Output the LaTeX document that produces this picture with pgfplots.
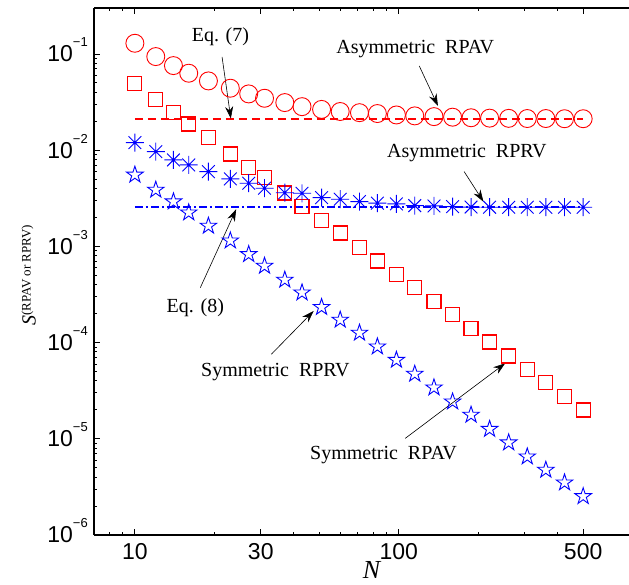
\documentclass[border=0pt]{standalone}
\usepackage{fontspec}
\setmainfont{Liberation Serif}
\setsansfont{Liberation Sans}
\usepackage{pgfplots}
\pgfplotsset{compat=1.18}
\usetikzlibrary{arrows.meta}

% MATLAB-like markers
\pgfdeclareplotmark{mstar}{%
  \pgfpathmoveto{\pgfqpoint{-\pgfplotmarksize}{0pt}}\pgfpathlineto{\pgfqpoint{\pgfplotmarksize}{0pt}}%
  \pgfpathmoveto{\pgfqpoint{0pt}{-\pgfplotmarksize}}\pgfpathlineto{\pgfqpoint{0pt}{\pgfplotmarksize}}%
  \pgfpathmoveto{\pgfpointpolar{45}{\pgfplotmarksize}}\pgfpathlineto{\pgfpointpolar{225}{\pgfplotmarksize}}%
  \pgfpathmoveto{\pgfpointpolar{135}{\pgfplotmarksize}}\pgfpathlineto{\pgfpointpolar{315}{\pgfplotmarksize}}%
  \pgfusepathqstroke}
\pgfdeclareplotmark{pentagram}{%
  \pgfpathmoveto{\pgfpointpolar{90}{\pgfplotmarksize}}%
  \pgfpathlineto{\pgfpointpolar{126}{0.382\pgfplotmarksize}}%
  \pgfpathlineto{\pgfpointpolar{162}{\pgfplotmarksize}}%
  \pgfpathlineto{\pgfpointpolar{198}{0.382\pgfplotmarksize}}%
  \pgfpathlineto{\pgfpointpolar{234}{\pgfplotmarksize}}%
  \pgfpathlineto{\pgfpointpolar{270}{0.382\pgfplotmarksize}}%
  \pgfpathlineto{\pgfpointpolar{306}{\pgfplotmarksize}}%
  \pgfpathlineto{\pgfpointpolar{342}{0.382\pgfplotmarksize}}%
  \pgfpathlineto{\pgfpointpolar{18}{\pgfplotmarksize}}%
  \pgfpathlineto{\pgfpointpolar{54}{0.382\pgfplotmarksize}}%
  \pgfpathclose\pgfusepathqstroke}

\newcommand{\tl}[1]{10\smash{\raisebox{15pt}{\fontsize{13}{13}\selectfont −#1}}}

\begin{document}
\begin{tikzpicture}
\useasboundingbox (-94pt,-50pt) rectangle (535pt,535pt);
\begin{axis}[scale only axis,width=535pt,height=527pt,
  xmode=log,ymode=log,xmin=7,xmax=746,ymin=1e-6,ymax=0.3,
  axis x line*=box,axis y line*=left,axis line style={-,line width=1.1pt},
  xtick={10,30,100,500},xticklabels={10,30,100,500},
  minor xtick={8,9,20,40,50,60,70,80,90,200,300,400},
  ytick={1e-6,1e-5,1e-4,1e-3,1e-2,1e-1},
  yticklabels={\tl{6},\tl{5},\tl{4},\tl{3},\tl{2},\tl{1}},
  tick align=inside,major tick length=6pt,minor tick length=3.5pt,
  tick style={black,line width=0.8pt},
  ticklabel style={font=\sffamily\fontsize{23}{23}\selectfont},
  xticklabel style={inner sep=0pt,yshift=-8.5pt},
  yticklabel style={inner sep=0pt,xshift=-6pt},
  xlabel={\fontsize{26}{26}\selectfont\itshape N},
  xlabel style={at={(axis description cs:0.519,-0.066)},anchor=center,inner sep=0pt},
  ylabel={{\fontsize{20}{20}\selectfont\itshape S}\raisebox{5pt}{\fontsize{13}{13}\selectfont(RPAV or RPRV)}},
  ylabel style={at={(axis description cs:-0.122,0.493)},anchor=center},
  clip=false]

% Eq. (7) and Eq. (8)
\addplot[red,line width=2.2pt,dash pattern=on 8pt off 5pt] coordinates {(10,0.0211)(500,0.0211)};
\addplot[blue,line width=1.8pt,dash pattern=on 8pt off 3pt on 2pt off 3pt] coordinates {(10,0.00255)(500,0.00255)};

% Asymmetric RPAV
\addplot[red,only marks,mark=o,mark size=9pt,mark options={draw=red,line width=0.9pt}] coordinates {
(10,0.129)(12,0.0938)(14,0.0756)(16,0.063)(19,0.0524)(23,0.044)(27,0.0384)(31,0.0346)
(37,0.0312)(43,0.0283)(51,0.0265)(60,0.0252)(71,0.0245)(83,0.0240)(98,0.0232)(115,0.0227)
(136,0.0223)(160,0.0220)(188,0.0217)(221,0.0215)(261,0.0214)(307,0.0213)(361,0.0213)
(425,0.0212)(500,0.0212)};

% Symmetric RPAV
\addplot[red,only marks,mark=square,mark size=7pt,mark options={draw=red,line width=1.15pt}] coordinates {
(10,0.0496)(12,0.0333)(14,0.0245)(16,0.0187)(19,0.01349)(23,0.00913)(27,0.00658)(31,0.00518)
(37,0.00359)(43,0.00257)(51,0.00185)(60,0.001377)(71,0.00097)(83,0.000705)(98,0.000513)
(115,0.000372)(136,0.000266)(160,0.000194)(188,0.000141)(221,0.0001015)(261,7.26e-5)
(307,5.28e-5)(361,3.83e-5)(425,2.74e-5)(500,1.99e-5)};

% Asymmetric RPRV
\addplot[blue,only marks,mark=mstar,mark size=9pt,mark options={draw=blue,line width=0.9pt}] coordinates {
(10,0.01197)(12,0.00965)(14,0.00791)(16,0.00702)(19,0.00598)(23,0.00502)(27,0.00453)(31,0.00402)
(37,0.00361)(43,0.00356)(51,0.00321)(60,0.00309)(71,0.00292)(83,0.00281)(98,0.00276)
(115,0.00265)(136,0.00263)(160,0.00259)(188,0.00256)(221,0.00255)(261,0.00255)(307,0.00255)
(361,0.00255)(425,0.00255)(500,0.00255)};

% Symmetric RPRV
\addplot[blue,only marks,mark=pentagram,mark size=8.7pt,mark options={draw=blue,line width=0.9pt}] coordinates {
(10,0.00553)(12,0.00386)(14,0.002915)(16,0.00224)(19,0.00163)(23,0.001146)(27,0.000827)
(31,0.000625)(37,0.000448)(43,0.00033)(51,0.000233)(60,0.000172)(71,0.000126)(83,9.07e-5)
(98,6.59e-5)(115,4.72e-5)(136,3.40e-5)(160,2.43e-5)(188,1.77e-5)(221,1.26e-5)(261,9.12e-6)
(307,6.52e-6)(361,4.74e-6)(425,3.50e-6)(500,2.52e-6)};

% annotations
\tikzset{ann/.style={font=\fontsize{20}{20}\selectfont,inner sep=0pt},
  arr/.style={black,line width=0.6pt,-{Stealth[length=12pt,width=8pt]}}}
\node[ann] at (axis cs:21.1,0.150) {Eq. (7)};
\draw[arr] (axis cs:21.4,0.0931) -- (axis cs:23.1,0.0213);
\node[ann] at (axis cs:115.5,0.1127) {Asymmetric\ \ RPAV};
\draw[arr] (axis cs:119.6,0.075) -- (axis cs:140.8,0.0288);
\node[ann] at (axis cs:181.2,0.00942) {Asymmetric\ \ RPRV};
\draw[arr] (axis cs:177,0.00598) -- (axis cs:209.5,0.00291);
\node[ann] at (axis cs:16.95,0.000229) {Eq. (8)};
\draw[arr] (axis cs:17.7,0.000372) -- (axis cs:24.2,0.00243);
\node[ann] at (axis cs:34.1,4.98e-5) {Symmetric\ \ RPRV};
\draw[arr] (axis cs:32.9,7.56e-5) -- (axis cs:47.6,0.000213);
\node[ann] at (axis cs:87.6,6.79e-6) {Symmetric\ \ RPAV};
\draw[arr] (axis cs:105.8,1.01e-5) -- (axis cs:253.2,6.09e-5);
\end{axis}
\end{tikzpicture}
\end{document}
